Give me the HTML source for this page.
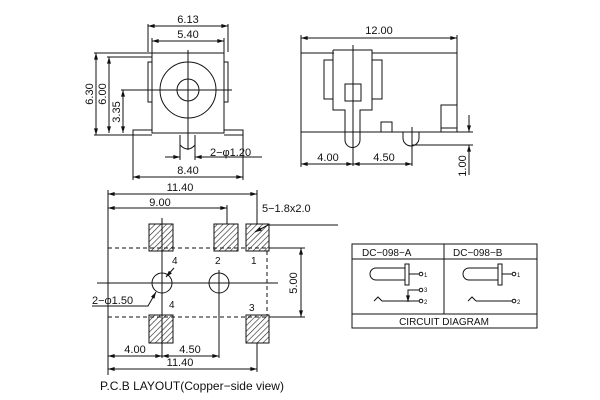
<!DOCTYPE html>
<html><head><style>body{margin:0;background:#fff}svg{display:block}text{font-family:"Liberation Sans",sans-serif;fill:#111}</style></head><body>
<svg width="600" height="400" viewBox="0 0 600 400" xmlns="http://www.w3.org/2000/svg">
<defs>
<marker id="a" viewBox="0 0 10 6" refX="10" refY="3" markerWidth="8" markerHeight="4" orient="auto-start-reverse" markerUnits="userSpaceOnUse"><path d="M0,0L10,3L0,6z" fill="#111"/></marker>
<pattern id="h" width="4" height="4" patternUnits="userSpaceOnUse" patternTransform="rotate(45)"><rect width="4" height="4" fill="#fff"/><line x1="0" y1="0" x2="0" y2="4" stroke="#222" stroke-width="1.2"/></pattern>
</defs>
<g stroke="#111" stroke-width="1" fill="none">
<!-- Front view -->
<rect x="152" y="53" width="72" height="80"/>
<rect x="148" y="62" width="4" height="40"/>
<rect x="224" y="62" width="4" height="40"/>
<path d="M152,130H133V135H152M224,130H243V135H224"/>
<circle cx="188" cy="90" r="28"/>
<circle cx="188" cy="90" r="11"/>
<path d="M180,135V160M195,135V160M180,145Q188,153 195,145"/>
<line x1="188" y1="50" x2="188" y2="150"/>
<line x1="123" y1="90" x2="232" y2="90"/>
<path d="M148,24V52M228,24V52M152,38V53M224,38V53"/>
<line x1="148" y1="26" x2="228" y2="26" marker-start="url(#a)" marker-end="url(#a)"/>
<line x1="152" y1="41" x2="224" y2="41" marker-start="url(#a)" marker-end="url(#a)"/>
<path d="M94,53H152M107,57H152M121,90H152M94,135H133"/>
<line x1="96" y1="53" x2="96" y2="135" marker-start="url(#a)" marker-end="url(#a)"/>
<line x1="109" y1="57" x2="109" y2="133" marker-start="url(#a)" marker-end="url(#a)"/>
<line x1="123" y1="90" x2="123" y2="133" marker-start="url(#a)" marker-end="url(#a)"/>
<path d="M133,135V180M243,135V180"/>
<line x1="133" y1="177" x2="243" y2="177" marker-start="url(#a)" marker-end="url(#a)"/>
<line x1="165" y1="157" x2="180" y2="157" marker-end="url(#a)"/>
<line x1="262" y1="157" x2="195" y2="157" marker-end="url(#a)"/>
<!-- Side view -->
<rect x="301" y="53" width="156" height="79"/>
<path d="M333,50H372V110H360V130M333,50V110H345V130" fill="#fff"/>
<path d="M345,128V140A7.5,7.5 0 0 0 360,140V128M345,132H360"/>
<rect x="324" y="60" width="9" height="39"/>
<rect x="372" y="60" width="10" height="39"/>
<rect x="345" y="84" width="16" height="17"/>
<line x1="353" y1="45" x2="353" y2="166"/>
<rect x="381" y="122" width="11" height="10"/>
<rect x="441" y="105" width="16" height="27"/>
<line x1="441" y1="128" x2="457" y2="128"/>
<path d="M403,132V138A8,8 0 0 0 419,138V132"/>
<line x1="412" y1="127" x2="412" y2="166"/>
<path d="M457,132H473M412,145H473"/>
<path d="M301,35V53M457,35V53"/>
<line x1="301" y1="38" x2="457" y2="38" marker-start="url(#a)" marker-end="url(#a)"/>
<line x1="469" y1="115" x2="469" y2="132" marker-end="url(#a)"/>
<line x1="469" y1="175" x2="469" y2="145" marker-end="url(#a)"/>
<path d="M301,132V167"/>
<line x1="301" y1="164" x2="353" y2="164" marker-start="url(#a)" marker-end="url(#a)"/>
<line x1="353" y1="164" x2="412" y2="164" marker-start="url(#a)" marker-end="url(#a)"/>
<!-- PCB -->
<g fill="url(#h)">
<rect x="149" y="224" width="24" height="27"/><rect x="214" y="224" width="24" height="27"/><rect x="246" y="224" width="23" height="27"/>
<rect x="149" y="315" width="24" height="28"/><rect x="246" y="315" width="23" height="28"/>
</g>
<path d="M108,248H270M108,317H270M108,248V317M267,251V315" stroke-dasharray="4,3"/>
<path d="M270,248H305M270,317H305"/>
<line x1="301" y1="248" x2="301" y2="317" marker-start="url(#a)" marker-end="url(#a)"/>
<circle cx="162" cy="283" r="10"/><circle cx="219" cy="283" r="10"/>
<line x1="97" y1="283" x2="278" y2="283"/>
<line x1="162" y1="218" x2="162" y2="358"/>
<line x1="219" y1="270" x2="219" y2="358"/>
<line x1="108" y1="190" x2="108" y2="375"/>
<path d="M257,190V224M227,205V224M257,343V372"/>
<line x1="108" y1="194" x2="257" y2="194" marker-start="url(#a)" marker-end="url(#a)"/>
<line x1="108" y1="208" x2="227" y2="208" marker-start="url(#a)" marker-end="url(#a)"/>
<line x1="108" y1="356" x2="162" y2="356" marker-start="url(#a)" marker-end="url(#a)"/>
<line x1="162" y1="356" x2="219" y2="356" marker-start="url(#a)" marker-end="url(#a)"/>
<line x1="108" y1="369" x2="257" y2="369" marker-start="url(#a)" marker-end="url(#a)"/>
<path d="M338,225H268L255,232" marker-end="url(#a)"/>
<line x1="174" y1="268" x2="166" y2="277" marker-end="url(#a)"/>
<path d="M92,306H148L156,292" marker-end="url(#a)"/>
<!-- Circuit -->
<rect x="352" y="244" width="185" height="84"/>
<path d="M352,259H537M352,314H537M444,244V314"/>
<path d="M405,268H376A6,6 0 0 0 376,280H405"/><rect x="405" y="264" width="4" height="21"/>
<path d="M409,274H419M408,298V290H419M374,301L378,297L382,301M382,301H419"/>
<line x1="408" y1="290" x2="408" y2="302" marker-end="url(#a)"/>
<circle cx="421" cy="274" r="1.8"/><circle cx="421" cy="290" r="1.8"/><circle cx="421" cy="301" r="1.8"/>
<path d="M498,268H469A6,6 0 0 0 469,280H498"/><rect x="498" y="264" width="4" height="21"/>
<path d="M502,274H512M468,301L472,297L476,301M476,301H512"/>
<circle cx="514" cy="274" r="1.8"/><circle cx="514" cy="301" r="1.8"/>
</g>
<g font-size="11">
<text x="188" y="23" text-anchor="middle">6.13</text>
<text x="188" y="38" text-anchor="middle">5.40</text>
<text transform="translate(93,94) rotate(-90)" text-anchor="middle">6.30</text>
<text transform="translate(106,94) rotate(-90)" text-anchor="middle">6.00</text>
<text transform="translate(120,112) rotate(-90)" text-anchor="middle">3.35</text>
<text x="210" y="156">2−φ1.20</text>
<text x="188" y="174" text-anchor="middle">8.40</text>
<text x="379" y="34" text-anchor="middle">12.00</text>
<text x="328" y="161" text-anchor="middle">4.00</text>
<text x="384" y="161" text-anchor="middle">4.50</text>
<text transform="translate(466,166) rotate(-90)" text-anchor="middle">1.00</text>
<text x="180" y="191" text-anchor="middle">11.40</text>
<text x="160" y="206" text-anchor="middle">9.00</text>
<text x="262" y="212">5−1.8x2.0</text>
<text transform="translate(297,283) rotate(-90)" text-anchor="middle">5.00</text>
<text x="92" y="304">2−φ1.50</text>
<text x="135" y="353" text-anchor="middle">4.00</text>
<text x="190" y="353" text-anchor="middle">4.50</text>
<text x="180" y="366" text-anchor="middle">11.40</text>
<text x="100" y="390" font-size="12">P.C.B LAYOUT(Copper−side view)</text>
<text x="444" y="325" text-anchor="middle" font-size="10">CIRCUIT DIAGRAM</text>
<text x="362" y="256" font-size="10">DC−098−A</text>
<text x="453" y="256" font-size="10">DC−098−B</text>
</g>
<g font-size="10">
<text x="172" y="264">4</text><text x="215" y="264">2</text><text x="251" y="264">1</text>
<text x="169" y="308">4</text><text x="249" y="311">3</text>
</g>
<g font-size="6"><text x="424" y="277">1</text><text x="424" y="292">3</text><text x="424" y="304">2</text><text x="517" y="277">1</text><text x="517" y="304">2</text></g>
</svg>
</body></html>
